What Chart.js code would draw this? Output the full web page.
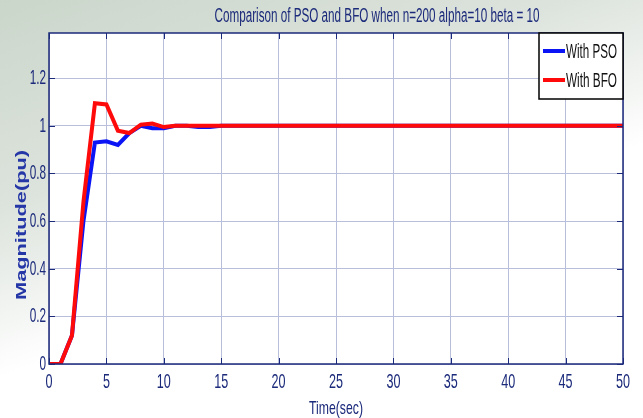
<!DOCTYPE html>
<html>
<head>
<meta charset="utf-8">
<script src="https://cdn.jsdelivr.net/npm/chart.js@4/dist/chart.umd.min.js"></script>
<style>
    html, body { margin: 0; padding: 0; }
    body {
        width: 643px; height: 418px; overflow: hidden;
        background:
            linear-gradient(160deg, rgba(200, 212, 200, 0.95) 0%, rgba(212, 220, 212, 0.8) 32%, rgba(255, 255, 255, 0) 58%),
            #ffffff;
    }
    #wrap { position: relative; width: 643px; height: 418px; }
</style>
</head>
<body>
<div id="wrap"><canvas id="chart" width="643" height="418"></canvas></div>
<script>
// Data
var timeSec = [0, 1, 2, 3, 4, 5, 6, 7, 8, 9, 10, 11, 12, 13, 14, 15, 20, 25, 30, 35, 40, 45, 50];
var withPso = [0, 0, 0.12, 0.60, 0.93, 0.935, 0.92, 0.97, 1.0, 0.99, 0.99, 1.0, 1.0, 0.995, 0.995, 1.0, 1.0, 1.0, 1.0, 1.0, 1.0, 1.0, 1.0];
var withBfo = [0, 0, 0.12, 0.68, 1.095, 1.09, 0.98, 0.97, 1.005, 1.01, 0.995, 1.0, 1.0, 1.0, 1.0, 1.0, 1.0, 1.0, 1.0, 1.0, 1.0, 1.0, 1.0];
var xTicks = [0, 5, 10, 15, 20, 25, 30, 35, 40, 45, 50];
var yTicks = [0, 0.2, 0.4, 0.6, 0.8, 1, 1.2];
var xTickLabels = ['0', '5', '10', '15', '20', '25', '30', '35', '40', '45', '50'];
var yTickLabels = ['0', '0.2', '0.4', '0.6', '0.8', '1', '1.2'];

var navy = '#1b2a7a';
var narrow = '"Liberation Sans", Arial, sans-serif';

function toPoints(xs, ys) {
    return xs.map(function (x, i) { return { x: x, y: ys[i] }; });
}

// Draw text squeezed horizontally (MATLAB narrow look)
function narrowText(ctx, text, x, y, size, width, align, sx) {
    ctx.save();
    ctx.font = size + 'px ' + narrow;
    var w = ctx.measureText(text).width;
    var s = width ? width / w : sx;
    ctx.translate(x, y);
    ctx.scale(s, 1);
    ctx.textAlign = align || 'left';
    ctx.textBaseline = 'middle';
    ctx.fillText(text, 0, 0);
    ctx.restore();
}

// Plot frame, inward ticks, labels, titles and legend
var matlabPlugin = {
    id: 'matlab',
    beforeDraw: function (chart) {
        var a = chart.chartArea, ctx = chart.ctx;
        ctx.save();
        ctx.fillStyle = '#ffffff';
        ctx.fillRect(a.left, a.top, a.right - a.left, a.bottom - a.top);
        ctx.restore();
    },
    afterDraw: function (chart) {
        var a = chart.chartArea, ctx = chart.ctx;
        var xs = chart.scales.x, ys = chart.scales.y;
        ctx.save();
        // inward ticks
        ctx.strokeStyle = navy;
        ctx.lineWidth = 1;
        ctx.beginPath();
        xTicks.forEach(function (v) {
            var p = Math.round(xs.getPixelForValue(v)) + 0.5;
            ctx.moveTo(p, a.bottom); ctx.lineTo(p, a.bottom - 6);
            ctx.moveTo(p, a.top); ctx.lineTo(p, a.top + 6);
        });
        yTicks.forEach(function (v) {
            var p = Math.round(ys.getPixelForValue(v)) + 0.5;
            ctx.moveTo(a.left, p); ctx.lineTo(a.left + 6, p);
            ctx.moveTo(a.right, p); ctx.lineTo(a.right - 6, p);
        });
        ctx.stroke();
        // frame
        ctx.lineWidth = 1.5;
        ctx.strokeRect(a.left, a.top, a.right - a.left, a.bottom - a.top);

        // tick labels
        ctx.fillStyle = navy;
        xTicks.forEach(function (v, i) {
            narrowText(ctx, xTickLabels[i], xs.getPixelForValue(v), a.bottom + 18, 21, 0, 'center', 0.6);
        });
        yTicks.forEach(function (v, i) {
            narrowText(ctx, yTickLabels[i], a.left - 3, ys.getPixelForValue(v), 21, 0, 'right', 0.56);
        });

        // title
        narrowText(ctx, 'Comparison of PSO and BFO when n=200 alpha=10 beta = 10', 377, 16, 20, 325, 'center');

        // x axis title
        narrowText(ctx, 'Time(sec)', (a.left + a.right) / 2, 409, 19, 54, 'center');

        // y axis title
        ctx.save();
        ctx.translate(22, 225);
        ctx.rotate(-Math.PI / 2);
        ctx.fillStyle = '#2536a6';
        ctx.font = 'bold 15px ' + narrow;
        ctx.textAlign = 'center';
        ctx.textBaseline = 'middle';
        var tw = ctx.measureText('Magnitude(pu)').width;
        ctx.scale(150 / tw, 1);
        ctx.fillText('Magnitude(pu)', 0, 0);
        ctx.restore();

        // legend
        var lx = 539, ly = a.top, lw = a.right - lx, lh = 66;
        ctx.fillStyle = '#ffffff';
        ctx.fillRect(lx, ly, lw, lh);
        ctx.strokeStyle = '#000000';
        ctx.lineWidth = 1.5;
        ctx.strokeRect(lx, ly, lw, lh);
        chart.data.datasets.forEach(function (ds, i) {
            var yy = ly + 18 + i * 29;
            ctx.strokeStyle = ds.borderColor;
            ctx.lineWidth = 4;
            ctx.beginPath();
            ctx.moveTo(lx + 4, yy); ctx.lineTo(lx + 26, yy);
            ctx.stroke();
            ctx.fillStyle = '#111111';
            narrowText(ctx, ds.label, lx + 27, yy + 1, 20, 51, 'left');
        });
        ctx.restore();
    }
};

var chart = new Chart(document.getElementById('chart').getContext('2d'), {
    type: 'line',
    data: {
        datasets: [{
            label: 'With PSO',
            data: toPoints(timeSec, withPso),
            borderColor: '#0a14f5',
            borderWidth: 4,
            pointRadius: 0,
            fill: false,
            tension: 0,
            order: 2
        }, {
            label: 'With BFO',
            data: toPoints(timeSec, withBfo),
            borderColor: '#ff0a0a',
            borderWidth: 4,
            pointRadius: 0,
            fill: false,
            tension: 0,
            order: 1
        }]
    },
    options: {
        responsive: false,
        animation: false,
        layout: { padding: { top: 33, right: 20, left: 0, bottom: 0 } },
        plugins: {
            legend: { display: false },
            title: { display: false },
            tooltip: { enabled: false }
        },
        scales: {
            x: {
                type: 'linear',
                min: 0,
                max: 50,
                afterBuildTicks: function (scale) {
                    scale.ticks = xTicks.map(function (v) { return { value: v }; });
                },
                afterFit: function (scale) { scale.height = 54; },
                ticks: { display: false },
                grid: {
                    color: '#b9bedb',
                    lineWidth: 1,
                    drawTicks: false
                },
                border: { display: false },
                title: { display: false }
            },
            y: {
                type: 'linear',
                min: 0,
                max: 1.39,
                afterBuildTicks: function (scale) {
                    scale.ticks = yTicks.map(function (v) { return { value: v }; });
                },
                afterFit: function (scale) { scale.width = 49; },
                ticks: { display: false },
                grid: {
                    color: '#b9bedb',
                    lineWidth: 1,
                    drawTicks: false
                },
                border: { display: false },
                title: { display: false }
            }
        }
    },
    plugins: [matlabPlugin]
});
</script>
</body>
</html>
